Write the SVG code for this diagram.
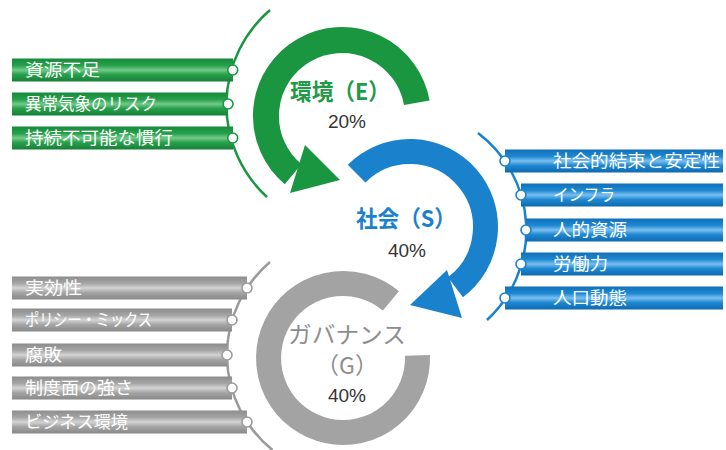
<svg xmlns="http://www.w3.org/2000/svg" width="726" height="450" viewBox="0 0 726 450">
<defs>
<linearGradient id="gG" x1="0" y1="0" x2="0" y2="1">
<stop offset="0" stop-color="#178a3b"/><stop offset="0.3" stop-color="#26a04b"/><stop offset="0.5" stop-color="#74c98a"/><stop offset="0.7" stop-color="#26a04b"/><stop offset="1" stop-color="#167f37"/>
</linearGradient>
<linearGradient id="gB" x1="0" y1="0" x2="0" y2="1">
<stop offset="0" stop-color="#0f6fb8"/><stop offset="0.3" stop-color="#1e88d2"/><stop offset="0.5" stop-color="#7bbff0"/><stop offset="0.7" stop-color="#1e88d2"/><stop offset="1" stop-color="#0e69ae"/>
</linearGradient>
<linearGradient id="gY" x1="0" y1="0" x2="0" y2="1">
<stop offset="0" stop-color="#8c8c8c"/><stop offset="0.3" stop-color="#a5a5a5"/><stop offset="0.5" stop-color="#d4d4d4"/><stop offset="0.7" stop-color="#a5a5a5"/><stop offset="1" stop-color="#888888"/>
</linearGradient>
</defs>
<style>
.bt{font-family:"Noto Sans CJK JP","Noto Sans",sans-serif;font-size:17px;fill:#ffffff;}
.ring{fill:none;}
.thin{fill:none;stroke-width:2.5;}
.dot{fill:#ffffff;stroke-width:1.6;}
.pct{font-family:"Liberation Sans","Noto Sans CJK JP",sans-serif;font-size:19px;fill:#333333;text-anchor:middle;}
.ttl{font-family:"Noto Sans CJK JP",sans-serif;font-size:23px;text-anchor:middle;}
</style>
<rect width="726" height="450" fill="#ffffff"/>

<g id="connectors">
<path class="thin" d="M270,10 A125,125 0 0 0 267,197" stroke="#1a9641"/>
<path class="thin" d="M478,133 A122,122 0 0 1 487,320" stroke="#1a82cc"/>
<path class="thin" d="M270,262 A122,122 0 0 0 272.5,450" stroke="#9a9a9a"/>
</g>

<g id="ring-E">
<path class="ring" d="M416.8,102.8 A76,76 0 1 0 293.1,174.2" stroke="#1a9641" stroke-width="26"/>
<polygon points="305,145 340,180 290,193" fill="#1a9641"/>
<text class="ttl" x="340" y="100" fill="#1f9a46" font-weight="bold" textLength="100" lengthAdjust="spacingAndGlyphs">環境（E）</text>
<text class="pct" x="347" y="128">20%</text>
</g>

<g id="ring-S">
<path class="ring" d="M356.6,173.6 A75.5,75.5 0 1 1 455.4,287.3" stroke="#1a82cc" stroke-width="25"/>
<polygon points="447,270 410,305 462,318" fill="#1a82cc"/>
<text class="ttl" x="406" y="227" fill="#1a82cc" font-weight="bold" textLength="100" lengthAdjust="spacingAndGlyphs">社会（S）</text>
<text class="pct" x="407" y="257">40%</text>
</g>

<g id="ring-G">
<path class="ring" d="M417.5,355.4 A74.5,74.5 0 1 1 390.9,300.9" stroke="#a3a3a3" stroke-width="25"/>
<text class="ttl" x="347" y="343" fill="#8e8e8e" font-size="22" textLength="118" lengthAdjust="spacingAndGlyphs">ガバナンス</text>
<text class="ttl" x="347" y="374" fill="#8e8e8e" font-size="21">（G）</text>
<text class="pct" x="347" y="402">40%</text>
</g>

<g id="item-E1"><rect x="12" y="58.5" width="221" height="23" fill="url(#gG)"/><circle class="dot" cx="232.7" cy="70" r="5" stroke="#1a9641"/><text class="bt" x="25" y="76" textLength="75" lengthAdjust="spacingAndGlyphs">資源不足</text></g>
<g id="item-E2"><rect x="12" y="92.5" width="216" height="23" fill="url(#gG)"/><circle class="dot" cx="228" cy="104" r="5" stroke="#1a9641"/><text class="bt" x="25" y="110" textLength="132" lengthAdjust="spacingAndGlyphs">異常気象のリスク</text></g>
<g id="item-E3"><rect x="12" y="126.5" width="221" height="23" fill="url(#gG)"/><circle class="dot" cx="232.7" cy="138" r="5" stroke="#1a9641"/><text class="bt" x="25" y="144" textLength="148" lengthAdjust="spacingAndGlyphs">持続不可能な慣行</text></g>

<g id="item-S1"><rect x="505" y="149.5" width="218" height="23" fill="url(#gB)"/><circle class="dot" cx="505" cy="161" r="5" stroke="#1a82cc"/><text class="bt" x="553" y="167" textLength="167" lengthAdjust="spacingAndGlyphs">社会的結束と安定性</text></g>
<g id="item-S2"><rect x="521" y="183.5" width="202" height="23" fill="url(#gB)"/><circle class="dot" cx="521" cy="195" r="5" stroke="#1a82cc"/><text class="bt" x="553" y="201" textLength="62" lengthAdjust="spacingAndGlyphs">インフラ</text></g>
<g id="item-S3"><rect x="526" y="218.5" width="197" height="23" fill="url(#gB)"/><circle class="dot" cx="526" cy="230" r="5" stroke="#1a82cc"/><text class="bt" x="553" y="236" textLength="74" lengthAdjust="spacingAndGlyphs">人的資源</text></g>
<g id="item-S4"><rect x="521" y="252.5" width="202" height="23" fill="url(#gB)"/><circle class="dot" cx="521" cy="264" r="5" stroke="#1a82cc"/><text class="bt" x="553" y="270" textLength="55" lengthAdjust="spacingAndGlyphs">労働力</text></g>
<g id="item-S5"><rect x="505" y="286.5" width="218" height="23" fill="url(#gB)"/><circle class="dot" cx="505" cy="298" r="5" stroke="#1a82cc"/><text class="bt" x="553" y="304" textLength="74" lengthAdjust="spacingAndGlyphs">人口動態</text></g>

<g id="item-G1"><rect x="12" y="276.5" width="235" height="23" fill="url(#gY)"/><circle class="dot" cx="247" cy="288" r="5" stroke="#9a9a9a"/><text class="bt" x="25" y="294" textLength="57" lengthAdjust="spacingAndGlyphs">実効性</text></g>
<g id="item-G2"><rect x="12" y="308.5" width="220" height="23" fill="url(#gY)"/><circle class="dot" cx="232" cy="320" r="5" stroke="#9a9a9a"/><text class="bt" x="25" y="326" textLength="127" lengthAdjust="spacingAndGlyphs">ポリシー・ミックス</text></g>
<g id="item-G3"><rect x="12" y="343.5" width="215" height="23" fill="url(#gY)"/><circle class="dot" cx="227" cy="355" r="5" stroke="#9a9a9a"/><text class="bt" x="25" y="361" textLength="37" lengthAdjust="spacingAndGlyphs">腐敗</text></g>
<g id="item-G4"><rect x="12" y="376.5" width="220" height="23" fill="url(#gY)"/><circle class="dot" cx="232" cy="388" r="5" stroke="#9a9a9a"/><text class="bt" x="25" y="394" textLength="108" lengthAdjust="spacingAndGlyphs">制度面の強さ</text></g>
<g id="item-G5"><rect x="12" y="410.5" width="235" height="23" fill="url(#gY)"/><circle class="dot" cx="247" cy="422" r="5" stroke="#9a9a9a"/><text class="bt" x="25" y="428" textLength="103" lengthAdjust="spacingAndGlyphs">ビジネス環境</text></g>
</svg>
